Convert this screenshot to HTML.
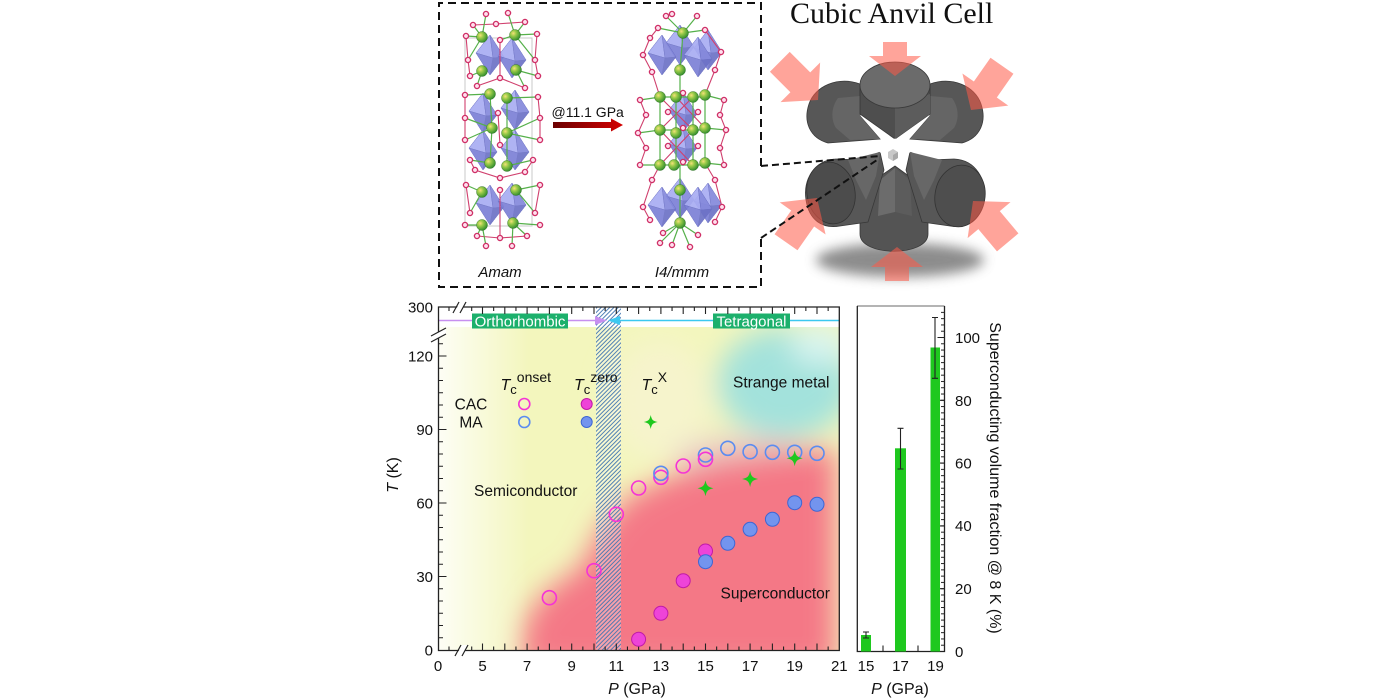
<!DOCTYPE html>
<html><head><meta charset="utf-8"><style>
html,body{margin:0;padding:0;background:#fff;width:1400px;height:700px;overflow:hidden;}
svg{display:block;}
text{font-family:"Liberation Sans",Arial,sans-serif;fill:#111;}
</style></head><body>
<svg width="1400" height="700" viewBox="0 0 1400 700" xmlns="http://www.w3.org/2000/svg">
<defs>
 <filter id="bl" x="-50%" y="-50%" width="200%" height="200%"><feGaussianBlur stdDeviation="14"/></filter>
 <filter id="bl2" x="-50%" y="-50%" width="200%" height="200%"><feGaussianBlur stdDeviation="6"/></filter>
 <linearGradient id="lw" x1="0" x2="1" y1="0" y2="0"><stop offset="0" stop-color="#fff" stop-opacity="0.85"/><stop offset="1" stop-color="#fff" stop-opacity="0"/></linearGradient>
 <pattern id="hatch" patternUnits="userSpaceOnUse" width="3" height="3" patternTransform="rotate(45)"><line x1="0.5" y1="0" x2="0.5" y2="3" stroke="#3f74b0" stroke-width="0.9"/></pattern>
 <pattern id="bt" patternUnits="userSpaceOnUse" x="0" y="651" width="10" height="6.28"><rect x="0" y="0" width="10" height="1" fill="#222"/></pattern>
 <clipPath id="pc"><rect x="439" y="327" width="400" height="323"/></clipPath>
 <radialGradient id="gg" cx="0.35" cy="0.35" r="0.7"><stop offset="0" stop-color="#f6e07a"/><stop offset="0.35" stop-color="#9ccc4a"/><stop offset="1" stop-color="#2c8a2c"/></radialGradient>
 <linearGradient id="ar" x1="0" x2="1"><stop offset="0" stop-color="#6a0000"/><stop offset="1" stop-color="#d40000"/></linearGradient>
 <g id="oc" stroke="#6b70c4" stroke-width="0.5" stroke-linejoin="round" opacity="0.92">
  <polygon points="0,-20 -14,-2 0,20 14,2" fill="#8a8fe4"/>
  <polygon points="0,-20 -14,-2 3,3" fill="#a9adf2"/>
  <polygon points="0,-20 14,2 3,3" fill="#8589dc"/>
  <polygon points="-14,-2 0,20 3,3" fill="#7c81d6"/>
  <polygon points="14,2 0,20 3,3" fill="#6d72c6"/>
 </g>
 <circle id="gb" r="5.5" fill="url(#gg)" stroke="#2d6b22" stroke-width="0.4"/>
 <circle id="rd" r="2.6" fill="#ffe0ee" stroke="#cf2f66" stroke-width="1.3"/>
 <path id="st" d="M0,-1 C0.15,-0.3 0.3,-0.15 1,0 C0.3,0.15 0.15,0.3 0,1 C-0.15,0.3 -0.3,0.15 -1,0 C-0.3,-0.15 -0.15,-0.3 0,-1Z"/>
 <path id="arwT" d="M-12,-34 L12,-34 L12,-20 L26,-20 L0,0 L-26,-20 L-12,-20 Z"/>
 <path id="arwD" d="M-14,-54 L14,-54 L14,-25 L28,-25 L0,0 L-28,-25 L-14,-25 Z"/>
 <path id="xt" d="M449 0v-4M471.7 0v-4M482.5 0v-7M493.65 0v-4M504.8 0v-7M515.95 0v-4M527.1 0v-7M538.25 0v-4M549.4 0v-7M560.55 0v-4M571.7 0v-7M582.85 0v-4M594 0v-7M605.15 0v-4M616.3 0v-7M627.45 0v-4M638.6 0v-7M649.75 0v-4M660.9 0v-7M672.05 0v-4M683.2 0v-7M694.35 0v-4M705.5 0v-7M716.65 0v-4M727.8 0v-7M738.95 0v-4M750.1 0v-7M761.25 0v-4M772.4 0v-7M783.55 0v-4M794.7 0v-7M805.85 0v-4M817 0v-7M828.15 0v-4" stroke="#222" stroke-width="1.1" fill="none"/>
</defs>

<!-- ===== Top: crystal structure box ===== -->
<path d="M761 166 V3 H439 V287 H761 V238" fill="none" stroke="#111" stroke-width="2" stroke-dasharray="8 5"/>

<!-- left structure (Amam) -->
<rect x="465" y="38" width="67" height="188" fill="none" stroke="#c8c8c8" stroke-width="1"/>
<g>
<use href="#oc" x="490" y="55"/><use href="#oc" x="512" y="58"/>
<use href="#oc" x="483" y="113"/><use href="#oc" x="515" y="110"/>
<use href="#oc" x="483" y="150"/><use href="#oc" x="515" y="150"/>
<use href="#oc" x="490" y="205"/><use href="#oc" x="512" y="203"/>
</g>
<path d="M473 25L496 24L525 22M466 36L468 60L470 76M537 34L535 60L538 76M500 40L500 78M477 86L500 78L525 88M465 95L465 118L465 140M538 97L540 118L540 140M498 113L500 145M470 160L475 170L500 178L525 172L533 160M466 185L470 213M540 185L535 213M500 190L500 238M477 236L500 238L527 236" stroke="#d0406e" stroke-width="1.1" fill="none"/>
<path d="M482 37L486 14M482 37L473 25M482 37L466 36M482 37L468 60M515 35L508 13M515 35L525 22M515 35L537 34M515 35L500 40M515 35L535 60M482 71L470 76M482 71L477 86M516 70L538 76M516 70L525 88M490 94L465 95M507 98L538 97M492 128L465 118M492 128L465 140M507 133L540 118M507 133L540 140M490 163L470 160M507 166L533 160M482 192L466 185M482 192L470 213M516 190L540 185M516 190L535 213M482 225L465 225M482 225L477 236M482 225L486 246M513 223L540 225M513 223L527 236M513 223L512 246M490 94L492 128M507 98L507 133M492 128L490 163M507 133L507 166" stroke="#55b04a" stroke-width="1.2" fill="none"/>
<g>
<use href="#rd" x="486" y="14"/><use href="#rd" x="508" y="13"/><use href="#rd" x="473" y="25"/><use href="#rd" x="496" y="24"/><use href="#rd" x="525" y="22"/><use href="#rd" x="537" y="34"/><use href="#rd" x="466" y="36"/><use href="#rd" x="500" y="40"/>
<use href="#rd" x="468" y="60"/><use href="#rd" x="535" y="60"/><use href="#rd" x="470" y="76"/><use href="#rd" x="538" y="76"/><use href="#rd" x="500" y="78"/><use href="#rd" x="477" y="86"/><use href="#rd" x="525" y="88"/>
<use href="#rd" x="465" y="95"/><use href="#rd" x="538" y="97"/><use href="#rd" x="465" y="118"/><use href="#rd" x="540" y="118"/><use href="#rd" x="465" y="140"/><use href="#rd" x="540" y="140"/><use href="#rd" x="498" y="113"/><use href="#rd" x="500" y="145"/><use href="#rd" x="470" y="160"/><use href="#rd" x="533" y="160"/><use href="#rd" x="475" y="170"/><use href="#rd" x="525" y="172"/><use href="#rd" x="500" y="178"/>
<use href="#rd" x="466" y="185"/><use href="#rd" x="540" y="185"/><use href="#rd" x="470" y="213"/><use href="#rd" x="535" y="213"/><use href="#rd" x="500" y="190"/><use href="#rd" x="465" y="225"/><use href="#rd" x="540" y="225"/><use href="#rd" x="477" y="236"/><use href="#rd" x="527" y="236"/><use href="#rd" x="500" y="238"/><use href="#rd" x="486" y="246"/><use href="#rd" x="512" y="246"/>
</g>
<g>
<use href="#gb" x="482" y="37"/><use href="#gb" x="515" y="35"/><use href="#gb" x="482" y="71"/><use href="#gb" x="516" y="70"/><use href="#gb" x="490" y="94"/><use href="#gb" x="507" y="98"/><use href="#gb" x="492" y="128"/><use href="#gb" x="507" y="133"/><use href="#gb" x="490" y="163"/><use href="#gb" x="507" y="166"/><use href="#gb" x="482" y="192"/><use href="#gb" x="516" y="190"/><use href="#gb" x="482" y="225"/><use href="#gb" x="513" y="223"/>
</g>

<!-- arrow -->
<text x="551.5" y="117" font-size="14">@11.1 GPa</text>
<path d="M553 122 H611 V118.5 L623 125 L611 131.5 V128 H553 Z" fill="url(#ar)"/>

<!-- right structure (I4/mmm) -->
<g>
<use href="#oc" x="680" y="45"/><use href="#oc" x="708" y="50"/>
<use href="#oc" x="662" y="55"/><use href="#oc" x="698" y="57"/>
<use href="#oc" x="683" y="112"/><use href="#oc" x="683" y="146"/>
<use href="#oc" x="680" y="198"/><use href="#oc" x="708" y="203"/>
<use href="#oc" x="662" y="207"/><use href="#oc" x="698" y="207"/>
</g>
<path d="M643 55L650 38M721 52L715 70M652 72L643 55M640 100L646 115L638 133L646 148L640 165M724 100L720 115L726 130L720 148L724 165M660 97L693 130M693 97L660 130M676 97L705 128M660 130L693 165M693 130L660 165M652 180L643 207L650 220M715 180L722 207L715 222M666 16L672 14M650 38L658 28M705 30L721 52M652 72L660 97M715 70L705 95M652 180L660 165M715 180L705 163" stroke="#d0406e" stroke-width="1.1" fill="none"/>
<path d="M683 33L666 16M683 33L697 16M683 33L658 28M683 33L705 30M683 33L680 70M660 97V165M676 97V165M693 97V165M705 95V163M660 97L640 100M705 95L724 100M660 130L638 133M705 128L726 130M660 165L640 165M705 163L724 165M680 190L680 223M680 223L663 233M680 223L698 235M680 223L672 245M680 223L690 247M680 223L660 243M680 70L680 97M680 190L680 165M660 97H705M660 130H705M660 165H705" stroke="#55b04a" stroke-width="1.2" fill="none"/>
<g>
<use href="#rd" x="666" y="16"/><use href="#rd" x="672" y="14"/><use href="#rd" x="697" y="16"/><use href="#rd" x="705" y="30"/><use href="#rd" x="658" y="28"/><use href="#rd" x="643" y="55"/><use href="#rd" x="721" y="52"/><use href="#rd" x="650" y="38"/><use href="#rd" x="715" y="70"/><use href="#rd" x="652" y="72"/>
<use href="#rd" x="640" y="100"/><use href="#rd" x="724" y="100"/><use href="#rd" x="646" y="115"/><use href="#rd" x="720" y="115"/><use href="#rd" x="638" y="133"/><use href="#rd" x="726" y="130"/><use href="#rd" x="646" y="148"/><use href="#rd" x="720" y="148"/><use href="#rd" x="640" y="165"/><use href="#rd" x="724" y="165"/><use href="#rd" x="683" y="93"/><use href="#rd" x="683" y="128"/><use href="#rd" x="683" y="162"/><use href="#rd" x="668" y="112"/><use href="#rd" x="698" y="112"/><use href="#rd" x="668" y="146"/><use href="#rd" x="698" y="146"/>
<use href="#rd" x="652" y="180"/><use href="#rd" x="715" y="180"/><use href="#rd" x="643" y="207"/><use href="#rd" x="722" y="207"/><use href="#rd" x="650" y="220"/><use href="#rd" x="715" y="222"/><use href="#rd" x="663" y="233"/><use href="#rd" x="698" y="235"/><use href="#rd" x="672" y="245"/><use href="#rd" x="690" y="247"/><use href="#rd" x="660" y="243"/>
</g>
<g>
<use href="#gb" x="683" y="33"/><use href="#gb" x="680" y="70"/>
<use href="#gb" x="660" y="97"/><use href="#gb" x="676" y="97"/><use href="#gb" x="693" y="97"/><use href="#gb" x="705" y="95"/>
<use href="#gb" x="660" y="130"/><use href="#gb" x="676" y="133"/><use href="#gb" x="693" y="130"/><use href="#gb" x="705" y="128"/>
<use href="#gb" x="660" y="165"/><use href="#gb" x="674" y="165"/><use href="#gb" x="693" y="165"/><use href="#gb" x="705" y="163"/>
<use href="#gb" x="680" y="190"/><use href="#gb" x="680" y="223"/>
</g>
<text x="500" y="277" font-size="15" font-style="italic" text-anchor="middle">Amam</text>
<text x="682" y="277" font-size="15" font-style="italic" text-anchor="middle">I4/mmm</text>

<!-- ===== Cubic anvil cell ===== -->
<text x="790" y="23" font-size="30" style="font-family:'Liberation Serif','Times New Roman',serif">Cubic Anvil Cell</text>
<ellipse cx="900" cy="260" rx="84" ry="17" fill="#666" opacity="0.75" filter="url(#bl2)"/>
<!-- bottom anvil -->
<path d="M860 190 L860 234 C860 257 928 257 928 234 L928 190 L895 166 Z" fill="#545454" stroke="#383838" stroke-width="0.8"/>
<path d="M880 180 L895 168 L895 212 L878 216 Z" fill="#6c6c6c"/>
<path d="M895 168 L910 180 L912 216 L895 212 Z" fill="#5c5c5c"/>
<!-- lower-left anvil -->
<path d="M880 152 L862 160 L836 159 C814 160 803 180 806 200 C809 220 822 229 840 226 L868 222 L876 196 L884 170 Z" fill="#575757" stroke="#383838" stroke-width="0.8"/>
<path d="M848 160 L880 152 L876 176 L866 200 L856 180 Z" fill="#676767"/>
<ellipse cx="831" cy="193" rx="24" ry="31" transform="rotate(-10 831 193)" fill="#4c4c4c" stroke="#333" stroke-width="0.8"/>
<!-- lower-right anvil -->
<path d="M910 152 L928 160 L954 159 C976 160 987 180 984 200 C981 220 968 229 950 226 L922 222 L914 196 L906 170 Z" fill="#575757" stroke="#383838" stroke-width="0.8"/>
<path d="M942 160 L910 152 L914 176 L924 200 L934 180 Z" fill="#676767"/>
<ellipse cx="960" cy="196" rx="25" ry="31" transform="rotate(10 960 196)" fill="#4e4e4e" stroke="#333" stroke-width="0.8"/>
<!-- upper-left anvil -->
<path d="M860 84 C838 76 815 86 809 104 C803 122 810 138 828 143 L880 139 L860 116 Z" fill="#575757" stroke="#383838" stroke-width="0.8"/>
<path d="M838 98 C832 106 830 118 836 128 L850 140 L880 139 L860 116 L860 96 Z" fill="#656565"/>
<!-- upper-right anvil -->
<path d="M930 84 C952 76 975 86 981 104 C987 122 980 138 962 143 L910 139 L930 116 Z" fill="#575757" stroke="#383838" stroke-width="0.8"/>
<path d="M952 98 C958 106 960 118 954 128 L940 140 L910 139 L930 116 L930 96 Z" fill="#656565"/>
<!-- top anvil -->
<path d="M860 86 L860 114 L895 139 L930 114 L930 86 Z" fill="#4e4e4e" stroke="#383838" stroke-width="0.8"/>
<path d="M895 106 L895 139 L930 114 L930 94 Z" fill="#5c5c5c"/>
<ellipse cx="895" cy="85" rx="35" ry="23" fill="#6b6b6b" stroke="#3a3a3a" stroke-width="0.8"/>
<!-- center -->
<path d="M895 138 L901 148 L913 150 L904 157 L905 170 L895 163 L885 170 L886 157 L877 150 L889 148 Z" fill="#fff"/>
<path d="M888 152 L893 149 L898 152 L898 158 L893 161 L888 158 Z" fill="#c8c8c8"/>
<path d="M893 155 L898 152 L898 158 L893 161 Z" fill="#a8a8a8"/>
<!-- pink arrows -->
<g fill="#ff5a48" opacity="0.55">
<use href="#arwT" transform="translate(895,76)"/>
<use href="#arwT" transform="translate(897,247) rotate(180)"/>
<use href="#arwD" transform="translate(818,100) rotate(-45)"/>
<use href="#arwD" transform="translate(971,110) rotate(35)"/>
<use href="#arwD" transform="translate(817,198) rotate(-145)"/>
<use href="#arwD" transform="translate(973,201) rotate(140)"/>
</g>
<path d="M761 166 L880 156 M761 238 L877 160" stroke="#111" stroke-width="2" stroke-dasharray="7 4" fill="none"/>

<!-- ===== Main chart ===== -->
<g clip-path="url(#pc)">
 <rect x="439" y="327" width="400" height="323" fill="#f3f6bd"/>
 <g filter="url(#bl)">
  <ellipse cx="660" cy="400" rx="50" ry="60" fill="#f6f4cc"/>
  <ellipse cx="785" cy="383" rx="68" ry="55" fill="#a3e2dc"/>
  <ellipse cx="820" cy="345" rx="30" ry="20" fill="#d8f4f0"/>
  <ellipse cx="745" cy="458" rx="70" ry="22" fill="#e8cfc8"/>
  <polygon points="520,670 525,620 545,592 580,568 605,522 630,496 670,476 720,461 780,452 836,448 836,670" fill="#f47886"/>
 </g>
 <rect x="439" y="327" width="90" height="323" fill="url(#lw)"/>
</g>
<!-- hatch band -->
<rect x="596" y="307" width="25" height="343" fill="#fff" opacity="0.3"/>
<rect x="596" y="307" width="25" height="343" fill="url(#hatch)"/>

<!-- phase line -->
<path d="M439 320.5 H598" stroke="#c78ff0" stroke-width="1.6"/>
<polygon points="595,316 607,320.5 595,325" fill="#c78ff0"/>
<path d="M616 320.5 H839" stroke="#3cc8f0" stroke-width="1.6"/>
<polygon points="620,316 608,320.5 620,325" fill="#3cc8f0"/>
<rect x="472" y="313.5" width="96" height="15" fill="#1cb06c"/>
<text x="520" y="326.5" font-size="15" text-anchor="middle" style="fill:#fff">Orthorhombic</text>
<rect x="713" y="313.5" width="77" height="15" fill="#1cb06c"/>
<text x="751.5" y="326.5" font-size="15" text-anchor="middle" style="fill:#fff">Tetragonal</text>

<!-- axes -->
<g stroke="#222" stroke-width="1.3" fill="none">
 <path d="M438.5 307 V650.5 H839.3 V307 Z"/>
</g>
<use href="#xt" transform="translate(0,650.5)"/>
<use href="#xt" transform="translate(0,307) scale(1,-1)"/>
<path d="M438.5 637.75h4.5M438.5 625.5h4.5M438.5 613.25h4.5M438.5 601h4.5M438.5 588.75h4.5M438.5 576.5h8M438.5 564.25h4.5M438.5 552h4.5M438.5 539.75h4.5M438.5 527.5h4.5M438.5 515.25h4.5M438.5 503h8M438.5 490.75h4.5M438.5 478.5h4.5M438.5 466.25h4.5M438.5 454h4.5M438.5 441.75h4.5M438.5 429.5h8M438.5 417.25h4.5M438.5 405h4.5M438.5 392.75h4.5M438.5 380.5h4.5M438.5 368.25h4.5M438.5 356h8M438.5 343.75h4.5" stroke="#222" stroke-width="1.1" fill="none"/>
<!-- breaks -->
<polygon points="431,336 446,328 446,334 431,342" fill="#fff"/>
<path d="M431 336 L446 328 M431 342 L446 334" stroke="#222" stroke-width="1.2"/>
<polygon points="454,313 460,302 466,302 460,313" fill="#fff"/>
<path d="M453 313 L459 302 M460 313 L466 302" stroke="#222" stroke-width="1.2"/>
<polygon points="456,656 462,645 468,645 462,656" fill="#fff"/>
<path d="M455 656 L461 645 M462 656 L468 645" stroke="#222" stroke-width="1.2"/>

<!-- tick labels -->
<g font-size="15" text-anchor="end">
<text x="433" y="312.5">300</text>
<text x="433" y="361.5">120</text>
<text x="433" y="435">90</text>
<text x="433" y="508.5">60</text>
<text x="433" y="582">30</text>
<text x="433" y="655.5">0</text>
</g>
<g font-size="15" text-anchor="middle">
<text x="438" y="671">0</text><text x="482.5" y="671">5</text><text x="527.1" y="671">7</text><text x="571.7" y="671">9</text><text x="616.3" y="671">11</text><text x="660.9" y="671">13</text><text x="705.5" y="671">15</text><text x="750.1" y="671">17</text><text x="794.7" y="671">19</text><text x="839.3" y="671">21</text>
</g>
<text x="637" y="694" font-size="16" text-anchor="middle"><tspan font-style="italic">P</tspan> (GPa)</text>
<text transform="translate(398,475) rotate(-90)" font-size="16" text-anchor="middle"><tspan font-style="italic">T</tspan> (K)</text>

<!-- region labels -->
<g font-size="15.5">
<text x="733" y="387.5">Strange metal</text>
<text x="474" y="496">Semiconductor</text>
<text x="720.5" y="598.5">Superconductor</text>
<text x="471" y="409.5" text-anchor="middle">CAC</text>
<text x="471" y="427.5" text-anchor="middle">MA</text>
</g>
<text x="500.5" y="390" font-size="16"><tspan font-style="italic">T</tspan><tspan font-size="13" dy="4">c</tspan><tspan font-size="14" dy="-12">onset</tspan></text>
<text x="574" y="390" font-size="16"><tspan font-style="italic">T</tspan><tspan font-size="13" dy="4">c</tspan><tspan font-size="14" dy="-12">zero</tspan></text>
<text x="641.5" y="390" font-size="16"><tspan font-style="italic">T</tspan><tspan font-size="13" dy="4">c</tspan><tspan font-size="14" dy="-12">X</tspan></text>

<!-- legend markers -->
<circle cx="524.3" cy="404" r="5.5" fill="none" stroke="#f533d6" stroke-width="1.6"/>
<circle cx="524.3" cy="422" r="5.5" fill="none" stroke="#5b8cf0" stroke-width="1.6"/>
<circle cx="586.7" cy="404" r="5.5" fill="#ee44d8" stroke="#c01aa8" stroke-width="1"/>
<circle cx="586.7" cy="422" r="5.5" fill="#7394ee" stroke="#3d66d4" stroke-width="1"/>
<use href="#st" transform="translate(650.7,422) scale(7)" fill="#1ec81e"/>

<!-- data -->
<g fill="none" stroke="#5b8cf0" stroke-width="1.6">
<circle cx="705.5" cy="455" r="7"/><circle cx="727.8" cy="448.3" r="7"/><circle cx="750.1" cy="451.7" r="7"/><circle cx="772.4" cy="452.3" r="7"/><circle cx="794.7" cy="452.3" r="7"/><circle cx="817" cy="453.3" r="7"/>
</g>
<g fill="none" stroke="#f533d6" stroke-width="1.6">
<circle cx="549.4" cy="597.7" r="7"/><circle cx="594" cy="570.7" r="7"/><circle cx="616.3" cy="514.3" r="7"/><circle cx="638.6" cy="488" r="7"/><circle cx="660.9" cy="477.3" r="7"/><circle cx="683.2" cy="466" r="7"/><circle cx="705.5" cy="459.3" r="7"/>
</g>
<circle cx="660.9" cy="473.3" r="7" fill="none" stroke="#5b8cf0" stroke-width="1.6"/>
<g fill="#ee44d8" stroke="#c01aa8" stroke-width="1">
<circle cx="638.6" cy="639.3" r="7"/><circle cx="660.9" cy="613.3" r="7"/><circle cx="683.2" cy="580.7" r="7"/><circle cx="705.5" cy="551" r="7"/>
</g>
<g fill="#7394ee" stroke="#3d66d4" stroke-width="1">
<circle cx="705.5" cy="561.7" r="7"/><circle cx="727.8" cy="543.3" r="7"/><circle cx="750.1" cy="529.3" r="7"/><circle cx="772.4" cy="519.3" r="7"/><circle cx="794.7" cy="502.7" r="7"/><circle cx="817" cy="504.3" r="7"/>
</g>
<g fill="#1ec81e">
<use href="#st" transform="translate(705.5,488.3) scale(8)"/>
<use href="#st" transform="translate(750.1,479) scale(8)"/>
<use href="#st" transform="translate(794.7,458.3) scale(8)"/>
</g>

<!-- ===== Bar chart ===== -->
<path d="M857 306 H944.5" stroke="#888" stroke-width="1.2"/>
<path d="M857.3 306 V651.5 H944.5 V306" stroke="#222" stroke-width="1.3" fill="none"/>
<path d="M883 651.5v-6M918 651.5v-6" stroke="#222" stroke-width="1.1"/>
<rect x="941" y="308" width="3.5" height="344" fill="url(#bt)"/>
<path d="M944.5 651.5h-7M944.5 588.7h-7M944.5 525.9h-7M944.5 463.1h-7M944.5 400.3h-7M944.5 337.5h-7" stroke="#222" stroke-width="1.1"/>
<g fill="#1ec81e">
<rect x="861" y="635" width="10" height="16.5"/>
<rect x="895" y="448.3" width="11" height="203.2"/>
<rect x="930.5" y="347.5" width="9.5" height="304"/>
</g>
<path d="M866 632V638M863 632H869M863 638H869M900.5 428.3V469M897.5 428.3H903.5M897.5 469H903.5M935 317.5V378.3M932 317.5H938M932 378.3H938" stroke="#222" stroke-width="1.1" fill="none"/>
<g font-size="15">
<text x="955" y="657">0</text><text x="955" y="594">20</text><text x="955" y="531">40</text><text x="955" y="468.5">60</text><text x="955" y="405.8">80</text><text x="955" y="343">100</text>
</g>
<g font-size="15" text-anchor="middle">
<text x="866" y="671">15</text><text x="900.5" y="671">17</text><text x="935.5" y="671">19</text>
</g>
<text x="900" y="694" font-size="16" text-anchor="middle"><tspan font-style="italic">P</tspan> (GPa)</text>
<text transform="translate(990,478) rotate(90)" font-size="16" text-anchor="middle">Superconducting volume fraction @ 8 K (%)</text>
</svg>
</body></html>
